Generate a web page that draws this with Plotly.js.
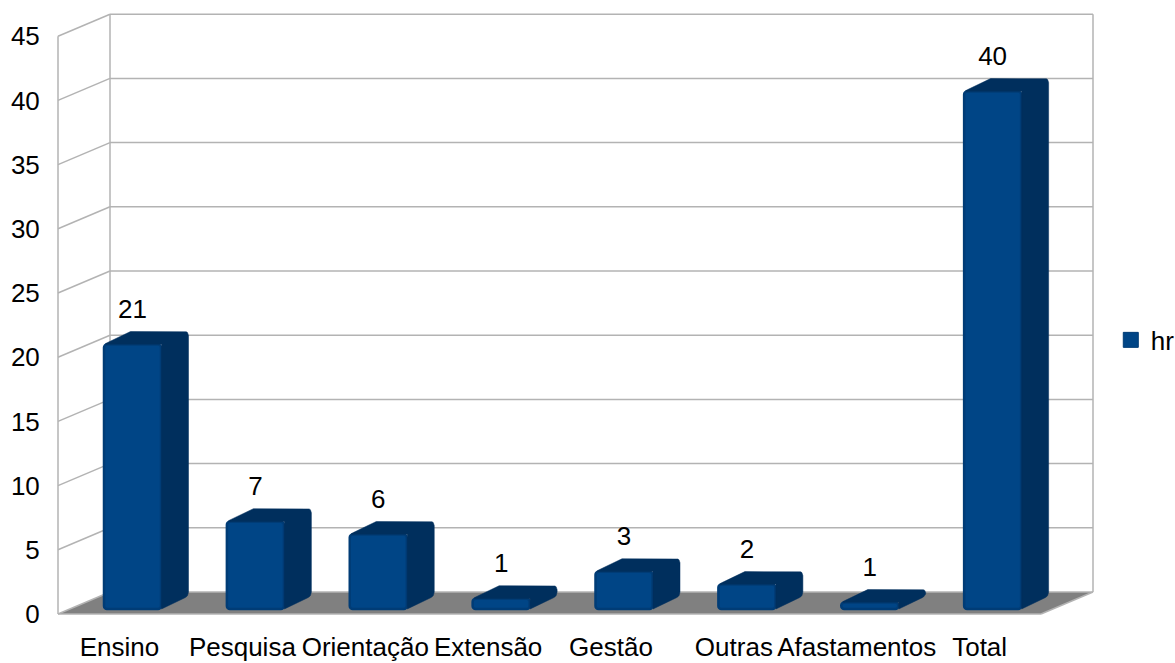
<!DOCTYPE html>
<html>
<head>
<meta charset="utf-8">
<script src="https://cdn.plot.ly/plotly-3.0.1.min.js"></script>
<style>html,body{margin:0;padding:0;background:#fff;overflow:hidden}</style>
</head>
<body>
<div id="chart" style="width:1175px;height:663px"></div>
<script>
const categories = ["Ensino","Pesquisa","Orientação","Extensão","Gestão","Outras","Afastamentos","Total"];
const hoursDrawn = [20.6, 6.8, 5.8, 0.8, 2.9, 1.9, 0.5, 40.3];
const hoursLabels = ["21","7","6","1","3","2","1","40"];
const yTicks = [0,5,10,15,20,25,30,35,40,45];
const seriesName = "hr";

// scale of the axes, in pixels per data unit
const xUnit = 122.875, yUnit = 12.84;
const wallDx = 52/xUnit, wallDy = 22/yUnit;       // depth of the chart box
const barShift = 13/xUnit, barW = 58/xUnit, barBase = 5/yUnit;
const barInset = 1/xUnit;                         // front face sits inside its bevel stroke
const barDx = 27/xUnit, barDy = 13/yUnit;         // depth of a bar
const cornerPx = 4;
const labelGap = 33.5/yUnit;
const xMin = -63.5/xUnit, xMax = 975.5/xUnit;
const floorL = -61.5/xUnit, floorR = floorL + 8;

const gridColor = "#b3b3b3", floorColor = "#808080";
const frontColor = "#004586", edgeColor = "#003c76", depthColor = "#002f5d";
const font = "Liberation Sans, Arial, sans-serif";

const idx = categories.map((_, i) => i);
const centers = idx.map(i => i + barShift);

function seg(x0,y0,x1,y1){
  return {type:"line",xref:"x",yref:"y",x0,y0,x1,y1,layer:"below",
          line:{color:gridColor,width:1.5}};
}
const shapes = [];
// floor
shapes.push({type:"path",xref:"x",yref:"y",layer:"below",line:{width:0},fillcolor:floorColor,
  path:`M${floorL},0 L${floorL+wallDx},${wallDy} L${floorR+wallDx},${wallDy} L${floorR},0 Z`});
// walls and grid
yTicks.forEach(v=>{
  shapes.push(seg(floorL,v,floorL+wallDx,v+wallDy));
  shapes.push(seg(floorL+wallDx,v+wallDy,floorR+wallDx,v+wallDy));
});
shapes.push(seg(floorL,0,floorL,45));
shapes.push(seg(floorL+wallDx,wallDy,floorL+wallDx,45+wallDy));
shapes.push(seg(floorR+wallDx,wallDy,floorR+wallDx,45+wallDy));
shapes.push(seg(floorL,0,floorR,0));
shapes.push(seg(floorR,0,floorR+wallDx,wallDy));

// round the corners of a polygon, working in pixels
function rounded(pts, flags){
  const out=[], n=pts.length;
  pts.forEach((p,k)=>{
    if(!flags[k]){out.push(p);return;}
    const a=pts[(k+n-1)%n], b=pts[(k+1)%n];
    const toward=(q)=>{
      const dx=(q[0]-p[0])*xUnit, dy=(q[1]-p[1])*yUnit, L=Math.hypot(dx,dy)||1;
      const r=Math.min(cornerPx,L/2);
      return [p[0]+dx/L*r/xUnit, p[1]+dy/L*r/yUnit];
    };
    const s=toward(a), e=toward(b);
    for(let t=0;t<=1.001;t+=0.25){
      const u=1-t;
      out.push([u*u*s[0]+2*u*t*p[0]+t*t*e[0], u*u*s[1]+2*u*t*p[1]+t*t*e[1]]);
    }
  });
  return out;
}
const depthX=[], depthY=[];
idx.forEach(i=>{
  const x0=centers[i]-barW/2, x1=centers[i]+barW/2, b=barBase, t=barBase+hoursDrawn[i];
  const poly=[[x0,t],[x0+barDx,t+barDy],[x1+barDx,t+barDy],[x1+barDx,b+barDy],[x1,b],[x1,t]];
  rounded(poly,[true,false,true,true,false,false]).forEach(p=>{depthX.push(p[0]);depthY.push(p[1]);});
  depthX.push(null);depthY.push(null);
});

const traces = [
  {type:"bar",name:seriesName,x:centers,y:hoursDrawn,base:barBase,width:barW-barInset,
   marker:{color:frontColor,line:{color:edgeColor,width:2.5},cornerradius:3},
   showlegend:false,hoverinfo:"skip"},
  {type:"scatter",mode:"lines",x:depthX,y:depthY,fill:"toself",fillcolor:depthColor,
   line:{color:depthColor,width:0.5},showlegend:false,hoverinfo:"skip"},
  {type:"scatter",mode:"text",x:centers,y:hoursDrawn.map(v=>v+barBase+labelGap),text:hoursLabels,
   textposition:"middle center",textfont:{family:font,size:26,color:"#000"},
   cliponaxis:false,showlegend:false,hoverinfo:"skip"},
  {type:"scatter",mode:"markers",name:seriesName,x:[null],y:[null],
   marker:{symbol:"square",size:15,color:frontColor,line:{color:edgeColor,width:1}},
   showlegend:true,hoverinfo:"skip"}
];

const layout = {
  width:1175,height:663,
  margin:{l:56,r:80,t:12,b:47,pad:0,autoexpand:false},
  paper_bgcolor:"#fff",plot_bgcolor:"#fff",
  barmode:"overlay",
  shapes,
  showlegend:true,
  legend:{x:1.0152,y:0.457,xanchor:"left",yanchor:"middle",
          font:{family:font,size:26,color:"#000"},bgcolor:"rgba(0,0,0,0)",borderwidth:0},
  xaxis:{range:[xMin,xMax],tickmode:"array",tickvals:idx,ticktext:categories,tickangle:0,
         showgrid:false,zeroline:false,showline:false,
         ticks:"outside",ticklen:8,tickcolor:"rgba(0,0,0,0)",
         tickfont:{family:font,size:26,color:"#000"},automargin:false},
  yaxis:{range:[-2/yUnit,602/yUnit],tickmode:"array",tickvals:yTicks,
         showgrid:false,zeroline:false,showline:false,ticklabelshift:1.5,
         ticks:"outside",ticklen:10,tickcolor:"rgba(0,0,0,0)",
         tickfont:{family:font,size:26,color:"#000"},automargin:false}
};
Plotly.newPlot("chart",traces,layout,{displayModeBar:false,staticPlot:true});
</script>
</body>
</html>
